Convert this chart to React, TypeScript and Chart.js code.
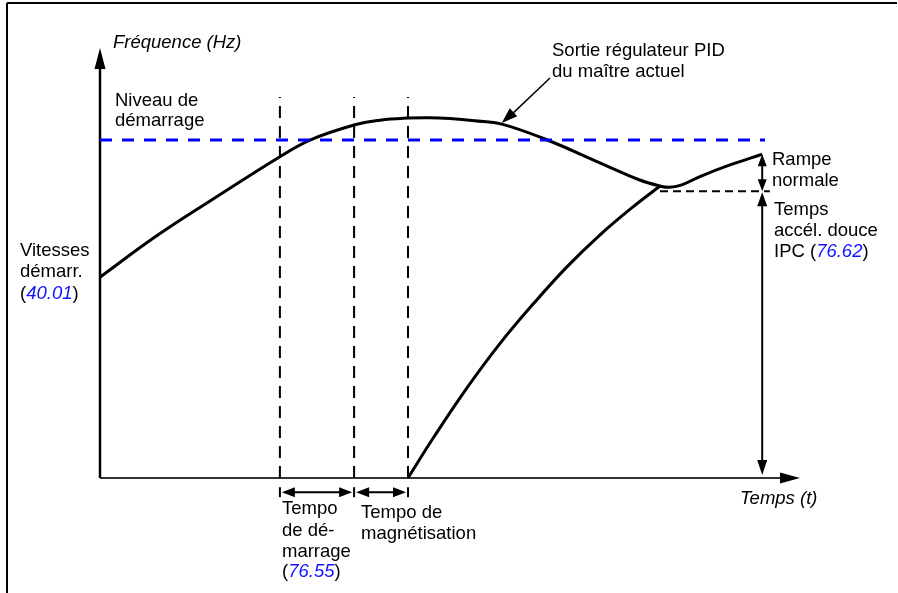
import React, { useEffect, useRef } from "react";
import { Chart, registerables } from "chart.js";

Chart.register(...registerables);

// ---- Data (time units / frequency units of the diagram) ----
const pidTime = [0, 8, 16, 25.7, 30, 36.3, 40, 44, 47, 50, 53.5, 57.4, 63.9, 71.4, 77.1, 80, 81.3, 83, 85.7, 90, 94.6];
const pidFreq = [46.7, 56.2, 64.7, 74.7, 78.6, 82.1, 83.2, 83.7, 83.8, 83.6, 83.1, 82.3, 78.6, 73.3, 69.3, 67.9, 67.6, 68.1, 70.1, 72.8, 75.3];

const rampTime = [44, 47.6, 52.4, 57.1, 61.9, 66.7, 71.4, 76.1, 80];
const rampFreq = [0, 9.3, 20.9, 31.2, 40.5, 49.1, 56.5, 63.0, 67.9];

const startLevelFreq = 78.6;
const startLevelEnd = 95;

const markerTimes = [25.7, 36.3, 44]; // start delay begin, start delay end / magnetisation begin, magnetisation end
const markerTop = 88.6;

const softAccelFreq = 66.7;
const softAccelStart = 80;
const softAccelEnd = 95.7;

const rampEndTime = 94.6;
const rampEndFreq = 75.3;

const axisMaxTime = 100;
const axisMaxFreq = 100;

const FONT = '"Liberation Sans", Arial, Helvetica, sans-serif';
const BLUE = "#1414ff";

type Part = { text: string; italic?: boolean; color?: string };

function drawRich(ctx: CanvasRenderingContext2D, x: number, y: number, parts: Part[]) {
  let cx = x;
  for (const p of parts) {
    ctx.font = `${p.italic ? "italic " : ""}18.5px ${FONT}`;
    ctx.fillStyle = p.color || "#000";
    ctx.fillText(p.text, cx, y);
    cx += ctx.measureText(p.text).width;
  }
}

function head(ctx: CanvasRenderingContext2D, tipX: number, tipY: number, fromX: number, fromY: number, len: number, half: number) {
  const dx = tipX - fromX;
  const dy = tipY - fromY;
  const d = Math.hypot(dx, dy) || 1;
  const ux = dx / d;
  const uy = dy / d;
  const bx = tipX - ux * len;
  const by = tipY - uy * len;
  ctx.beginPath();
  ctx.moveTo(tipX, tipY);
  ctx.lineTo(bx - uy * half, by + ux * half);
  ctx.lineTo(bx + uy * half, by - ux * half);
  ctx.closePath();
  ctx.fill();
}

function line(ctx: CanvasRenderingContext2D, x1: number, y1: number, x2: number, y2: number, w: number, color = "#000") {
  ctx.strokeStyle = color;
  ctx.lineWidth = w;
  ctx.beginPath();
  ctx.moveTo(x1, y1);
  ctx.lineTo(x2, y2);
  ctx.stroke();
}

const diagramPlugin = {
  id: "diagram",
  beforeDatasetsDraw(chart: any) {
    const ctx: CanvasRenderingContext2D = chart.ctx;
    const xs = chart.scales.x;
    const ys = chart.scales.y;
    const x0 = xs.getPixelForValue(0);
    const y0 = ys.getPixelForValue(0);
    const xEnd = xs.getPixelForValue(axisMaxTime);
    const yEnd = ys.getPixelForValue(axisMaxFreq);
    ctx.save();
    // frame
    line(ctx, 7, 3, 897, 3, 2);
    line(ctx, 7, 3, 7, 593, 2);
    // x axis
    ctx.fillStyle = "#000";
    line(ctx, x0, y0, xEnd - 10, y0, 2, "#333");
    head(ctx, xEnd, y0, x0, y0, 20, 5.5);
    // y axis
    line(ctx, x0, y0, x0, yEnd + 10, 2.5);
    head(ctx, x0, yEnd, x0, y0, 21, 5.5);
    ctx.restore();
  },
  afterDatasetsDraw(chart: any) {
    const ctx: CanvasRenderingContext2D = chart.ctx;
    const xs = chart.scales.x;
    const ys = chart.scales.y;
    ctx.save();
    ctx.fillStyle = "#000";

    // vertical arrows at end of ramp
    const ax = xs.getPixelForValue(rampEndTime);
    const aTop = ys.getPixelForValue(rampEndFreq);
    const aMid = ys.getPixelForValue(softAccelFreq);
    const aBot = ys.getPixelForValue(0) - 3;
    line(ctx, ax, aTop + 6, ax, aMid - 6, 2);
    head(ctx, ax, aTop, ax, aMid, 12, 4.5);
    head(ctx, ax, aMid, ax, aTop, 12, 4.5);
    line(ctx, ax, aMid + 8, ax, aBot - 8, 2);
    head(ctx, ax, aMid + 1, ax, aBot, 14, 5);
    head(ctx, ax, aBot, ax, aMid, 15, 5);

    // horizontal double arrows below axis
    const hy = ys.getPixelForValue(-3.3);
    const px = markerTimes.map((t) => xs.getPixelForValue(t));
    for (const p of px) line(ctx, p, hy - 5, p, hy + 5, 2);
    for (let i = 0; i < px.length - 1; i++) {
      const a = px[i] + 2;
      const b = px[i + 1] - 2;
      line(ctx, a + 6, hy, b - 6, hy, 2);
      head(ctx, a, hy, b, hy, 13, 5);
      head(ctx, b, hy, a, hy, 13, 5);
    }

    // leader arrow to PID curve
    const tipX = xs.getPixelForValue(57.4);
    const tipY = ys.getPixelForValue(82.3);
    const lx = 550;
    const ly = 78;
    line(ctx, lx, ly, tipX + 6, tipY - 6, 1.5);
    head(ctx, tipX, tipY - 1, lx, ly, 16, 5.5);

    // texts
    ctx.textBaseline = "alphabetic";
    ctx.textAlign = "left";
    drawRich(ctx, 113, 48, [{ text: "Fréquence (Hz)", italic: true }]);
    drawRich(ctx, 115, 106, [{ text: "Niveau de" }]);
    drawRich(ctx, 115, 126, [{ text: "démarrage" }]);
    drawRich(ctx, 20, 256, [{ text: "Vitesses" }]);
    drawRich(ctx, 20, 277, [{ text: "démarr." }]);
    drawRich(ctx, 20, 299, [{ text: "(" }, { text: "40.01", italic: true, color: BLUE }, { text: ")" }]);
    drawRich(ctx, 552, 56, [{ text: "Sortie régulateur PID" }]);
    drawRich(ctx, 552, 77, [{ text: "du maître actuel" }]);
    drawRich(ctx, 772, 165, [{ text: "Rampe" }]);
    drawRich(ctx, 772, 186, [{ text: "normale" }]);
    drawRich(ctx, 774, 215, [{ text: "Temps" }]);
    drawRich(ctx, 774, 236, [{ text: "accél. douce" }]);
    drawRich(ctx, 774, 257, [{ text: "IPC (" }, { text: "76.62", italic: true, color: BLUE }, { text: ")" }]);
    drawRich(ctx, 740, 504, [{ text: "Temps (t)", italic: true }]);
    drawRich(ctx, 282, 514, [{ text: "Tempo" }]);
    drawRich(ctx, 282, 536, [{ text: "de dé-" }]);
    drawRich(ctx, 282, 557, [{ text: "marrage" }]);
    drawRich(ctx, 282, 577, [{ text: "(" }, { text: "76.55", italic: true, color: BLUE }, { text: ")" }]);
    drawRich(ctx, 361, 518, [{ text: "Tempo de" }]);
    drawRich(ctx, 361, 539, [{ text: "magnétisation" }]);
    ctx.restore();
  },
};

function zip(xs: number[], ys: number[]) {
  return xs.map((x, i) => ({ x, y: ys[i] }));
}

export default function App() {
  const ref = useRef<HTMLCanvasElement | null>(null);
  useEffect(() => {
    if (!ref.current) return;
    const markerSets = markerTimes.map((t) => ({
      data: [
        { x: t, y: 0 },
        { x: t, y: markerTop },
      ],
      borderColor: "#000",
      borderWidth: 2,
      borderDash: [12, 8],
      pointRadius: 0,
      tension: 0,
      clip: false as any,
    }));
    const chart = new Chart(ref.current, {
      type: "line",
      data: {
        datasets: [
          ...markerSets,
          {
            data: [
              { x: 0, y: startLevelFreq },
              { x: startLevelEnd, y: startLevelFreq },
            ],
            borderColor: "#0000ff",
            borderWidth: 3,
            borderDash: [12, 10],
            pointRadius: 0,
            clip: false as any,
          },
          {
            data: [
              { x: softAccelStart, y: softAccelFreq },
              { x: softAccelEnd, y: softAccelFreq },
            ],
            borderColor: "#000",
            borderWidth: 2,
            borderDash: [8, 5],
            pointRadius: 0,
            clip: false as any,
          },
          {
            data: zip(pidTime, pidFreq),
            borderColor: "#000",
            borderWidth: 3,
            pointRadius: 0,
            tension: 0.4,
            clip: false as any,
          },
          {
            data: zip(rampTime, rampFreq),
            borderColor: "#000",
            borderWidth: 3,
            pointRadius: 0,
            tension: 0.4,
            clip: false as any,
          },
        ],
      },
      options: {
        responsive: false,
        animation: false,
        layout: { padding: { left: 100, top: 48, right: 98, bottom: 115 } },
        plugins: { legend: { display: false }, tooltip: { enabled: false }, title: { display: false } },
        events: [],
        scales: {
          x: { type: "linear", min: 0, max: axisMaxTime, display: false },
          y: { type: "linear", min: 0, max: axisMaxFreq, display: false },
        },
      },
      plugins: [diagramPlugin],
    });
    return () => chart.destroy();
  }, []);
  return (
    <div style={{ position: "fixed", left: 0, top: 0, width: 898, height: 593, background: "#fff" }}>
      <canvas ref={ref} width={898} height={593} style={{ display: "block", width: 898, height: 593 }} />
    </div>
  );
}
